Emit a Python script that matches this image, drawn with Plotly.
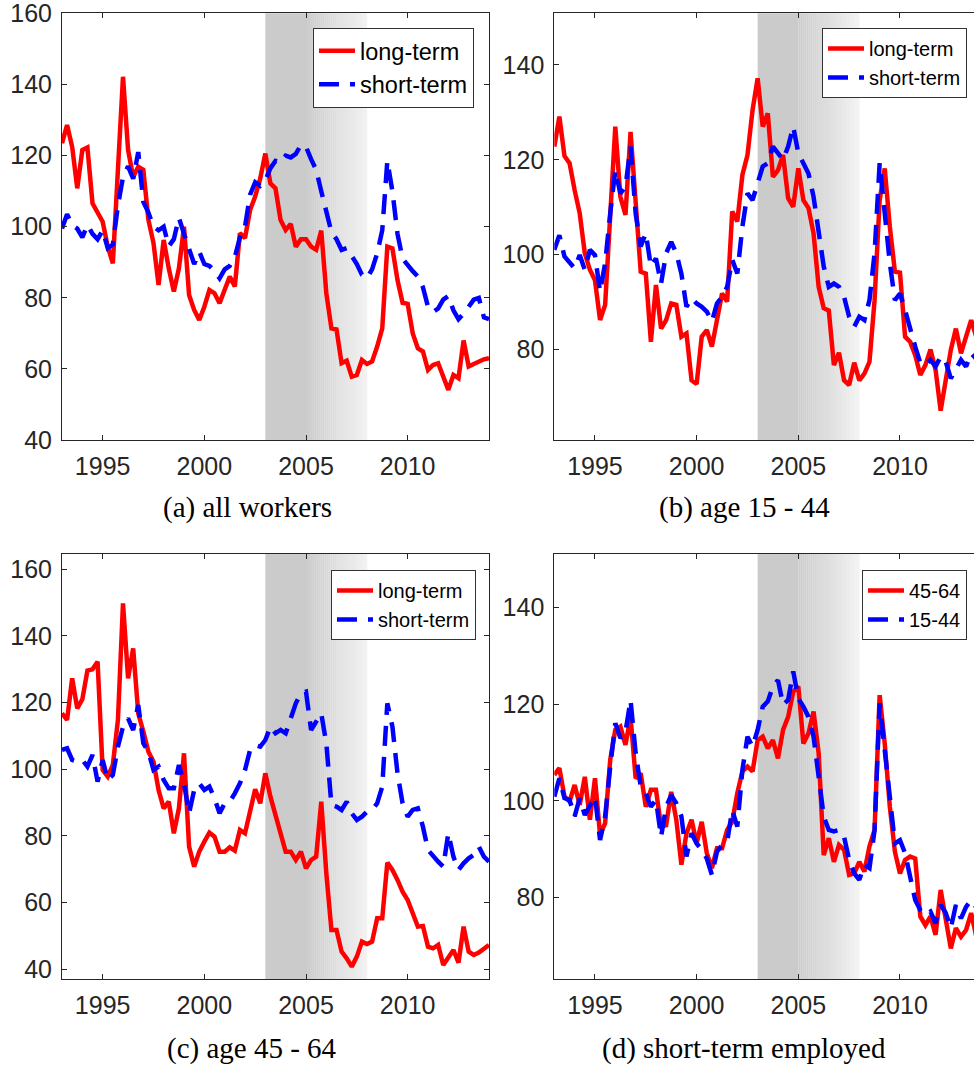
import plotly.graph_objects as go

# ---------------- data (quarterly, 1993Q1 .. 2014Q1) ----------------
start_year = 1993
n_q = 85
years = [start_year + 0.25 * i for i in range(n_q)]

a_long = [123.5, 128.6, 122.5, 110.8, 121.6, 122.3, 106.6, 103.8, 101.4, 94.4,
          89.7, 116.0, 142.2, 121.6, 114.0, 116.9, 116.0, 101.9, 95.4, 83.6,
          96.3, 88.3, 81.8, 88.3, 100.0, 80.8, 76.6, 73.8, 77.5, 82.2,
          81.3, 78.5, 82.7, 86.0, 83.2, 98.2, 96.8, 104.7, 108.5, 113.6,
          120.6, 112.2, 110.8, 101.9, 99.1, 100.8, 94.4, 96.5, 96.5, 94.4,
          93.5, 98.9, 81.3, 71.4, 71.1, 61.6, 62.3, 57.8, 58.3, 62.5,
          61.4, 62.1, 66.3, 71.4, 94.4, 93.9, 85.0, 78.6, 78.3, 70.0,
          65.8, 64.9, 59.7, 61.1, 61.6, 57.8, 54.1, 58.3, 57.4, 68.0,
          60.7, 61.4, 62.1, 62.7, 63.0]
a_short = [99.5, 103.5, 100.5, 99.5, 97.0, 100.5, 98.0, 96.5, 99.0, 94.0,
           95.0, 106.0, 114.0, 117.0, 113.5, 121.0, 107.0, 104.0, 100.0, 99.0,
           100.0, 94.5, 96.5, 102.5, 98.0, 93.5, 89.5, 93.0, 89.5, 89.0,
           87.5, 85.5, 88.0, 89.0, 91.5, 97.0, 100.0, 109.0, 112.5, 111.5,
           113.0, 116.5, 118.5, 118.0, 120.0, 119.5, 120.5, 123.0, 122.5, 119.0,
           116.0, 110.0, 104.0, 98.5, 96.5, 93.5, 94.0, 92.0, 89.5, 86.5,
           85.5, 88.0, 92.5, 99.0, 118.5, 110.0, 98.0, 91.0, 89.0, 87.5,
           86.0, 83.0, 77.5, 76.0, 77.0, 79.5, 80.5, 76.5, 74.0, 75.5,
           77.5, 79.5, 80.0, 74.5, 74.0]

b_long = [122.8, 129.1, 120.8, 119.3, 113.6, 108.7, 100.3, 96.8, 94.6, 86.2,
          89.4, 108.0, 127.0, 112.2, 108.4, 125.9, 111.5, 96.4, 96.0, 81.6,
          93.6, 84.4, 86.2, 89.7, 89.4, 82.7, 83.4, 73.5, 72.7, 82.7,
          84.1, 80.6, 86.2, 91.8, 90.1, 109.1, 107.0, 116.8, 121.0, 130.5,
          137.2, 127.0, 129.8, 116.4, 117.8, 121.0, 111.9, 110.1, 118.2, 111.5,
          109.8, 104.5, 93.2, 88.7, 88.2, 76.7, 79.3, 73.5, 72.5, 77.2,
          73.5, 74.9, 77.4, 90.4, 111.5, 118.2, 105.9, 96.4, 96.2, 82.7,
          81.6, 78.8, 74.6, 76.7, 80.0, 75.7, 67.1, 73.5, 79.9, 84.4,
          79.2, 82.7, 86.2, 82.7, 80.0]
b_short = [101.0, 104.1, 99.6, 98.2, 97.1, 99.9, 96.8, 101.0, 99.9, 92.2,
           98.2, 108.7, 117.8, 112.9, 114.3, 122.8, 108.7, 101.7, 104.5, 97.5,
           99.2, 93.9, 100.3, 102.7, 100.3, 96.0, 89.0, 90.8, 89.7, 89.0,
           88.0, 85.9, 89.7, 91.1, 93.2, 98.9, 96.0, 105.9, 112.9, 111.5,
           114.7, 118.6, 119.3, 122.8, 121.4, 120.0, 122.8, 127.0, 121.4, 119.3,
           117.1, 112.2, 104.5, 97.5, 93.2, 93.9, 93.2, 91.1, 86.9, 84.8,
           86.9, 86.2, 90.4, 100.3, 119.3, 108.7, 98.2, 90.4, 91.8, 88.3,
           84.1, 80.6, 77.1, 76.7, 77.8, 76.4, 78.5, 77.4, 73.9, 75.7,
           77.8, 76.4, 79.2, 78.0, 77.0]

c_long = [116.8, 114.8, 127.3, 118.3, 121.0, 129.6, 130.0, 132.3, 99.8, 97.8,
          101.3, 114.8, 149.8, 127.3, 136.3, 116.8, 111.3, 105.3, 102.3, 93.8,
          88.3, 90.3, 80.8, 88.3, 104.8, 76.8, 70.8, 75.3, 78.3, 81.0,
          79.8, 75.3, 75.3, 76.6, 75.6, 81.8, 80.8, 87.8, 94.0, 89.8,
          98.8, 91.8, 85.8, 80.8, 75.3, 75.3, 72.8, 75.3, 70.3, 72.8,
          73.8, 90.3, 68.8, 51.8, 51.8, 45.3, 43.3, 40.8, 43.8, 48.3,
          47.6, 48.3, 55.3, 55.3, 72.0, 69.8, 66.8, 63.3, 60.8, 56.8,
          52.8, 53.0, 46.8, 46.3, 47.3, 41.3, 43.8, 45.8, 42.0, 52.8,
          45.3, 44.3, 45.0, 46.3, 47.3]
c_short = [105.8, 106.3, 102.8, 102.3, 102.8, 100.8, 104.3, 96.3, 102.8, 96.8,
           98.3, 106.8, 112.8, 115.3, 111.8, 119.3, 107.8, 105.3, 99.8, 100.8,
           96.8, 94.3, 94.3, 101.3, 95.8, 86.8, 93.8, 95.8, 93.8, 94.8,
           91.3, 86.8, 89.8, 90.3, 92.8, 95.8, 99.8, 105.8, 107.3, 106.8,
           108.8, 112.8, 110.8, 111.8, 110.8, 115.8, 119.8, 122.8, 123.3, 111.8,
           114.3, 116.8, 107.8, 89.3, 88.8, 87.8, 90.3, 86.8, 84.8, 85.8,
           87.3, 87.8, 89.8, 94.8, 119.8, 112.8, 98.8, 89.8, 85.8, 87.8,
           88.3, 82.8, 75.8, 73.8, 72.3, 70.8, 80.8, 73.8, 69.8, 71.8,
           73.3, 74.3, 76.8, 73.8, 72.3]

d_old = [105.4, 106.8, 100.9, 99.9, 103.3, 99.2, 105.0, 96.1, 104.7, 93.0,
         95.4, 108.5, 114.7, 115.4, 111.6, 117.4, 104.7, 105.7, 98.8, 102.3,
         102.3, 94.7, 95.0, 101.9, 96.1, 86.8, 93.3, 96.1, 91.2, 95.7,
         89.2, 86.1, 90.2, 90.2, 94.0, 95.7, 101.6, 106.1, 107.1, 106.1,
         112.6, 113.3, 110.9, 112.6, 108.8, 114.7, 117.4, 122.6, 123.7, 111.9,
         114.0, 118.5, 109.9, 88.8, 92.3, 87.4, 90.9, 89.9, 84.7, 85.0,
         87.4, 85.4, 90.6, 94.0, 121.9, 111.9, 98.8, 89.5, 85.0, 87.8,
         88.5, 88.1, 76.1, 74.3, 76.1, 72.3, 81.6, 75.4, 69.5, 73.7,
         71.9, 73.3, 76.8, 72.0, 74.0]
d_young = [100.9, 104.7, 100.6, 100.2, 96.8, 100.6, 97.1, 98.8, 100.9, 91.9,
           96.8, 107.1, 116.1, 113.0, 114.3, 120.9, 109.9, 103.0, 101.6, 98.8,
           100.2, 92.6, 98.8, 101.2, 99.5, 96.8, 88.5, 93.3, 91.2, 89.9,
           88.1, 84.7, 89.5, 90.9, 91.6, 98.1, 94.7, 106.4, 113.3, 111.2,
           114.7, 119.5, 120.6, 123.7, 125.0, 119.9, 120.9, 126.8, 121.2, 119.5,
           117.4, 113.3, 105.7, 96.8, 94.0, 93.7, 94.0, 92.6, 87.8, 85.0,
           83.7, 86.8, 86.1, 94.0, 120.2, 109.9, 99.5, 91.2, 91.9, 89.2,
           84.3, 79.5, 77.4, 76.4, 77.1, 74.7, 78.5, 76.8, 73.7, 78.5,
           75.7, 78.1, 79.5, 78.0, 77.0]

captions = ["(a) all workers", "(b) age 15 - 44", "(c) age 45 - 64", "(d) short-term employed"]
legend_names = [("long-term", "short-term"), ("long-term", "short-term"),
                ("long-term", "short-term"), ("45-64", "15-44")]
x_ticks = [1995, 2000, 2005, 2010]
y_ticks_a = [40, 60, 80, 100, 120, 140, 160]
y_ticks_b = [80, 100, 120, 140]
y_ticks_c = [40, 60, 80, 100, 120, 140, 160]
y_ticks_d = [80, 100, 120, 140]
shade_start, shade_mid, shade_end = 2003, 2005, 2008

# ---------------- layout geometry ----------------
W, H = 974, 1065
def px_x(p): return p / W
def px_y(p): return 1 - p / H

panels = [
    dict(series=(a_long, a_short), xdom=(62, 489), ydom=(13.3, 440), xr=(1993, 2014),
         yr=(40, 160.05), yt=y_ticks_a, mirror_y=True, leg=(313, 28), legfont=23.5, cap=(247, 507)),
    dict(series=(b_long, b_short), xdom=(554.3, 974), ydom=(13.3, 440), xr=(1993, 2013.64),
         yr=(60.9, 150.9), yt=y_ticks_b, mirror_y=False, leg=(822, 28), legfont=20, cap=(744, 507)),
    dict(series=(c_long, c_short), xdom=(62, 489), ydom=(554, 979.3), xr=(1993, 2014),
         yr=(37, 164.6), yt=y_ticks_c, mirror_y=True, leg=(331, 570), legfont=20, cap=(252, 1048)),
    dict(series=(d_old, d_young), xdom=(554.3, 974), ydom=(554, 979.3), xr=(1993, 2013.64),
         yr=(63.1, 151.1), yt=y_ticks_d, mirror_y=False, leg=(862, 570), legfont=20, cap=(744, 1048)),
]

axcol = "#262626"
tickfont = dict(family="Liberation Sans, Arial, sans-serif", size=25, color=axcol)

fig = go.Figure()
layout = dict(width=W, height=H, margin=dict(l=0, r=0, t=0, b=0, autoexpand=False),
              paper_bgcolor="white", plot_bgcolor="rgba(0,0,0,0)", showlegend=True)
shapes = []
annotations = []

for i, p in enumerate(panels):
    k = "" if i == 0 else str(i + 1)
    xa, ya = "x" + k, "y" + k
    lg = "legend" + k
    long_s, short_s = p["series"]
    n1, n2 = legend_names[i]
    fig.add_trace(go.Scatter(x=years, y=long_s, mode="lines", name=n1, xaxis=xa, yaxis=ya,
                             legend=lg, line=dict(color="#ff0000", width=4.5)))
    fig.add_trace(go.Scatter(x=years, y=short_s, mode="lines", name=n2, xaxis=xa, yaxis=ya,
                             legend=lg, line=dict(color="#0000ff", width=4.5, dash="20px,11px")))
    layout["xaxis" + k] = dict(domain=[px_x(p["xdom"][0]), px_x(p["xdom"][1])], range=list(p["xr"]),
                               anchor=ya, tickvals=x_ticks, ticks="inside", ticklen=5, tickcolor=axcol,
                               showline=True, linecolor=axcol, linewidth=1, mirror="ticks",
                               showgrid=False, zeroline=False, tickfont=tickfont, ticklabelstandoff=4,
                               ticklabeloverflow="allow", automargin=False)
    layout["yaxis" + k] = dict(domain=[px_y(p["ydom"][1]), px_y(p["ydom"][0])], range=list(p["yr"]),
                               anchor=xa, tickvals=p["yt"], ticks="inside", ticklen=5, tickcolor=axcol,
                               showline=True, linecolor=axcol, linewidth=1,
                               mirror="ticks" if p["mirror_y"] else False,
                               showgrid=False, zeroline=False, tickfont=tickfont, ticklabelstandoff=4,
                               ticklabeloverflow="allow", automargin=False)
    layout[lg] = dict(x=px_x(p["leg"][0]), y=px_y(p["leg"][1]), xanchor="left", yanchor="top",
                      bgcolor="white", bordercolor="#333333", borderwidth=1,
                      font=dict(family="Liberation Sans, Arial, sans-serif", size=p["legfont"], color="black"),
                      tracegroupgap=0, itemwidth=36)
    # shaded period: solid then gradient
    shapes.append(dict(type="rect", xref=xa, yref=ya + " domain", x0=shade_start, x1=shade_mid,
                       y0=0, y1=1, fillcolor="rgb(203,203,203)", line=dict(width=0), layer="below"))
    nstrip = 30
    for s in range(nstrip):
        f = s / (nstrip - 1)
        c = int(round(204 + f * (242 - 204)))
        shapes.append(dict(type="rect", xref=xa, yref=ya + " domain",
                           x0=shade_mid + (shade_end - shade_mid) * s / nstrip,
                           x1=shade_mid + (shade_end - shade_mid) * (s + 1) / nstrip + 0.01,
                           y0=0, y1=1, fillcolor=f"rgb({c},{c},{c})", line=dict(width=0), layer="below"))
    annotations.append(dict(text=captions[i], xref="paper", yref="paper",
                            x=px_x(p["cap"][0]), y=px_y(p["cap"][1]), xanchor="center", yanchor="middle",
                            showarrow=False,
                            font=dict(family="Liberation Serif, Times New Roman, serif", size=29, color="black")))

layout["shapes"] = shapes
layout["annotations"] = annotations
fig.update_layout(**layout)
fig.write_html("out.html", config={"displayModeBar": False},
               post_script="document.body.style.margin='0';document.body.style.overflow='hidden';")
